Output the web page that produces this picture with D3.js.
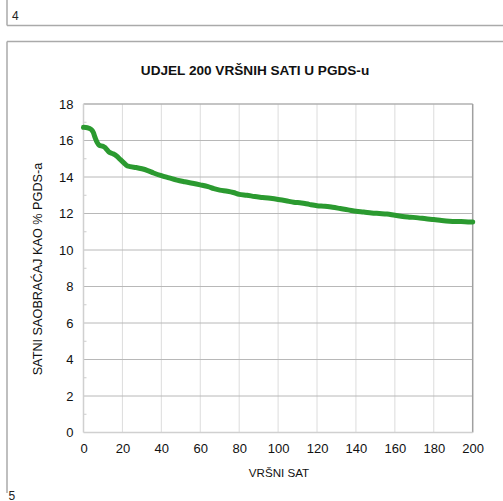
<!DOCTYPE html>
<html><head><meta charset="utf-8">
<script src="https://cdn.jsdelivr.net/npm/d3@7"></script>
<style>body{margin:0;background:#fff}svg{display:block;font-family:"Liberation Sans",Arial,sans-serif}</style>
</head><body>
<svg id="c" width="503" height="501"></svg>
<script>
const title = "UDJEL 200 VRŠNIH SATI U PGDS-u";
const xTitle = "VRŠNI SAT";
const yTitle = "SATNI SAOBRAĆAJ KAO % PGDS-a";
const xTicks = [0,20,40,60,80,100,120,140,160,180,200];
const yTicks = [0,2,4,6,8,10,12,14,16,18];
const hours = [0,2,4,5,6,7,8,10,11,12,13,15,17,19,21,22,24,27,30,33,36,40,44,48,52,56,60,64,67,70,74,77,80,84,88,92,96,100,104,108,112,116,120,124,128,132,136,140,144,148,152,156,160,164,168,172,176,180,184,188,192,196,200];
const shares = [16.72,16.70,16.60,16.45,16.15,15.90,15.75,15.68,15.62,15.50,15.38,15.28,15.15,14.95,14.75,14.65,14.57,14.52,14.45,14.35,14.22,14.07,13.95,13.83,13.74,13.66,13.57,13.47,13.36,13.28,13.22,13.15,13.05,13.00,12.93,12.88,12.83,12.77,12.70,12.62,12.58,12.50,12.43,12.40,12.34,12.27,12.20,12.12,12.08,12.03,12.00,11.97,11.90,11.84,11.80,11.76,11.71,11.67,11.62,11.58,11.56,11.55,11.53];

const svg = d3.select("#c");
const L = 83.5, R = 472.7, T = 104, B = 432.5;
const x = d3.scaleLinear().domain([0,200]).range([L,R]);
const y = d3.scaleLinear().domain([0,18]).range([B,T]);

// page boxes
svg.append("line").attr("x1",7).attr("y1",0).attr("x2",7).attr("y2",25.5).attr("stroke","#aaa").attr("stroke-width",1.5);
svg.append("line").attr("x1",7).attr("y1",25.5).attr("x2",503).attr("y2",25.5).attr("stroke","#aaa").attr("stroke-width",1.5);
svg.append("line").attr("x1",7).attr("y1",41.5).attr("x2",503).attr("y2",41.5).attr("stroke","#aaa").attr("stroke-width",1.5);
svg.append("line").attr("x1",7).attr("y1",41.5).attr("x2",7).attr("y2",493).attr("stroke","#aaa").attr("stroke-width",1.5);
svg.append("text").attr("x",12).attr("y",20).attr("font-size",12).attr("fill","#222").text("4");
svg.append("text").attr("x",8.5).attr("y",499.5).attr("font-size",12).attr("fill","#222").text("5");

// gridlines
svg.append("g").selectAll("line").data(xTicks.slice(1,-1)).join("line")
  .attr("x1",d=>x(d)).attr("x2",d=>x(d)).attr("y1",T).attr("y2",B)
  .attr("stroke","#dcdcdc").attr("stroke-width",1);
svg.append("g").selectAll("line").data(yTicks.slice(1,-1)).join("line")
  .attr("x1",L).attr("x2",R).attr("y1",d=>y(d)).attr("y2",d=>y(d))
  .attr("stroke","#b8b8b8").attr("stroke-width",1);
// minor ticks on y
svg.append("g").selectAll("line").data(d3.range(1,18,2)).join("line")
  .attr("x1",L).attr("x2",L+3).attr("y1",d=>y(d)).attr("y2",d=>y(d))
  .attr("stroke","#ccc").attr("stroke-width",1);
// plot frame
svg.append("line").attr("x1",L).attr("x2",R).attr("y1",T).attr("y2",T).attr("stroke","#b0b0b0").attr("stroke-width",1.5);
svg.append("line").attr("x1",R).attr("x2",R).attr("y1",T).attr("y2",B).attr("stroke","#a0a0a0").attr("stroke-width",1.5);
svg.append("line").attr("x1",L).attr("x2",L).attr("y1",T).attr("y2",B).attr("stroke","#d0d0d0").attr("stroke-width",1.5);
svg.append("line").attr("x1",L).attr("x2",R).attr("y1",B).attr("y2",B).attr("stroke","#d0d0d0").attr("stroke-width",1.5);

// axes labels via d3 axes
const ya = svg.append("g").attr("transform",`translate(${L},0)`)
  .call(d3.axisLeft(y).tickValues(yTicks).tickSize(0).tickPadding(10));
ya.select(".domain").remove();
ya.selectAll("text").attr("font-size",13).attr("fill","#111").attr("font-family","Liberation Sans, Arial, sans-serif");
const xa = svg.append("g").attr("transform",`translate(0,${B})`)
  .call(d3.axisBottom(x).tickValues(xTicks).tickSize(0).tickPadding(11));
xa.select(".domain").remove();
xa.selectAll("text").attr("font-size",13).attr("fill","#111").attr("font-family","Liberation Sans, Arial, sans-serif");

// line
const line = d3.line().x((d,i)=>x(hours[i])).y(d=>y(d)).curve(d3.curveMonotoneX);
svg.append("path").datum(shares).attr("d",line).attr("fill","none")
  .attr("stroke","#2b9a30").attr("stroke-width",5).attr("stroke-linejoin","round").attr("stroke-linecap","round");

// titles
svg.append("text").attr("x",255).attr("y",75).attr("text-anchor","middle").attr("font-size",13.6).attr("font-weight","bold").attr("fill","#111").text(title);
svg.append("text").attr("x",279).attr("y",477).attr("text-anchor","middle").attr("font-size",11.6).attr("fill","#111").text(xTitle);
svg.append("text").attr("transform","translate(42,269) rotate(-90)").attr("text-anchor","middle").attr("font-size",12.7).attr("fill","#111").text(yTitle);
</script>
</body></html>
